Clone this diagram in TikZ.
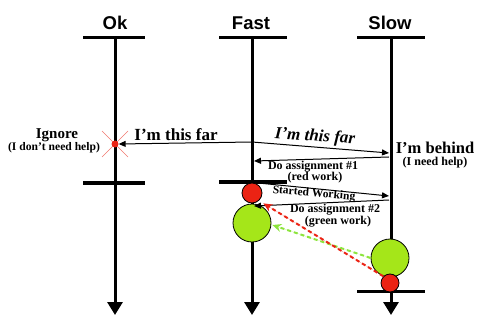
\documentclass[tikz,border=0pt]{standalone}
\usepackage{fontspec}
\setmainfont{Liberation Serif}
\setsansfont{Liberation Sans}
\usetikzlibrary{positioning, arrows.meta, calc}
\definecolor{workred}{RGB}{235,35,20}
\definecolor{workgreen}{RGB}{165,230,25}
\definecolor{dashgreen}{RGB}{140,228,60}
\definecolor{crossred}{RGB}{240,120,110}

\begin{document}
\begin{tikzpicture}[
  x=1pt, y=-1pt,
  lifeline/.style={line width=3pt, -{Triangle[width=15pt,length=13pt]}},
  bar/.style={line width=3pt},
  head/.style={font=\sffamily\bfseries\fontsize{18.5}{18.5}\selectfont},
  msg/.style={-{Triangle[width=6pt,length=7pt]}, line width=1pt},
  say/.style={font=\bfseries\fontsize{17}{17}\selectfont},
  note/.style={font=\bfseries\fontsize{12}{12}\selectfont},
  work/.style={draw, circle, inner sep=0pt, line width=0.8pt},
  redwork/.style={work, fill=workred, minimum size=20pt},
  greenwork/.style={work, fill=workgreen, minimum size=38pt},
  hint/.style={line width=2pt, dash pattern=on 4pt off 3pt, -{Stealth[length=9pt,width=8pt]}},
]
\useasboundingbox (0,0) rectangle (494,320);

% lifelines
\node[head] (ok) at (115,23) {Ok};
\node[head] (fast) at (251,23) {Fast};
\node[head] (slow) at (390,23) {Slow};
\coordinate (okT) at (115,38);   \coordinate (okB) at (115,315);
\coordinate (fastT) at (252,38); \coordinate (fastB) at (252,315);
\coordinate (slowT) at (391,38); \coordinate (slowB) at (391,315);
\draw[lifeline] (okT) -- (okB);
\draw[lifeline] (fastT) -- (fastB);
\draw[lifeline] (slowT) -- (slowB);
\draw[bar] (83,38) -- (145,38);
\draw[bar] (219,38) -- (287,38);
\draw[bar] (357,38) -- (425,38);
\draw[bar] (83,183) -- (145,183);
\draw[bar] (219,182) -- (287,182);
\draw[bar] (357,291) -- (425,291);

% Ok ignores
\draw[crossred, line width=0.6pt] (102,131) -- (128,157) (128,131) -- (102,157);
\node[circle, fill=workred, inner sep=0pt, minimum size=7pt] (okdot) at (115,144) {};
\node[note, font=\bfseries\fontsize{15}{15}\selectfont] (ignore) at (57,135) {Ignore};
\node[note, font=\bfseries\fontsize{11.6}{11.6}\selectfont] (ignore2) at (54,148) {(I don't need help)};

% progress messages
\coordinate (f1) at (252,142);
\coordinate (s1) at (389,153);
\draw[msg] (f1) -- (okdot.east);
\draw[msg] (f1) -- (s1);
\node[say] (far1) at (176,135) {I’m this far};
\node[say, font=\bfseries\itshape\fontsize{17}{17}\selectfont, rotate=-4] (far2) at (315,137) {I’m this far};
\node[say, font=\bfseries\fontsize{16.5}{16.5}\selectfont] (behind) at (435,148) {I’m behind};
\node[note] (behind2) at (435,163) {(I need help)};

% first assignment
\coordinate (s2) at (389,157);
\coordinate (f2) at (254,161);
\draw[msg] (s2) -- (f2);
\node[note] (do1) at (313,167) {Do assignment \#1};
\node[note] (do1b) at (315,178) {(red work)};

\node[redwork] (fred) at (252,193) {};
\node[greenwork] (fgreen) at (252,223) {};
\node[greenwork] (sgreen) at (390,258) {};
\node[redwork, minimum size=18pt] (sred) at (390,283) {};

\coordinate (f3) at (258,183);
\coordinate (s3) at (389,196);
\draw[msg] (f3) -- (s3);
\node[note, font=\bfseries\fontsize{11.5}{11.5}\selectfont, rotate=-5] (started) at (314,194) {Started Working};

\coordinate (s4) at (389,200);
\coordinate (f4) at (254,206);
\draw[msg] (s4) -- (f4);
\node[note] (do2) at (335,210) {Do assignment \#2};
\node[note] (do2b) at (338,222) {(green work)};

% work handed over
\draw[hint, draw=dashgreen, fill=dashgreen] (sgreen.west) -- ($(fgreen.east)+(1,2)$);
\draw[hint, draw=workred, fill=workred] (sred.north west) -- ($(fred.south east)+(4,3)$);
\end{tikzpicture}
\end{document}
